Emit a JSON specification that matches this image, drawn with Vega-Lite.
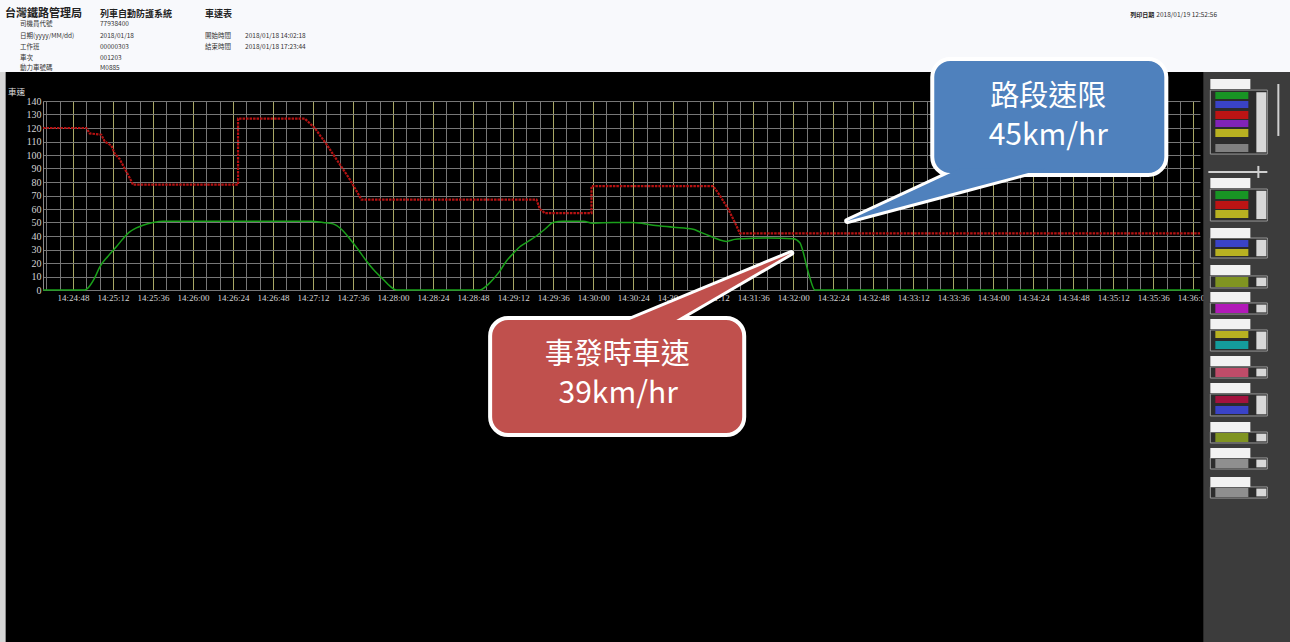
{
"$schema": "https://vega.github.io/schema/vega-lite/v6.json",
"width": 1157,
"height": 189,
"autosize": {"type": "none"},
"padding": {"left": 43, "top": 101, "right": 90, "bottom": 352},
"background": "#000000",
"config": {"view": {"stroke": null}, "font": "Noto Sans CJK TC"},
"datasets": {
  "limit": [
    {"t":30,"v":120},{"t":56,"v":120},{"t":58,"v":116},{"t":65,"v":115},{"t":67,"v":110},{"t":71,"v":107},{"t":73,"v":101},{"t":76,"v":97},{"t":79,"v":90},{"t":82,"v":83},{"t":84,"v":78},{"t":147,"v":78},{"t":147,"v":127},{"t":187,"v":127},{"t":193,"v":120},{"t":200,"v":108},{"t":207,"v":95},{"t":214,"v":82},{"t":221,"v":67},{"t":326,"v":67},{"t":328,"v":60},{"t":331,"v":57},{"t":359,"v":57},{"t":359,"v":77},{"t":432,"v":77},{"t":436,"v":70},{"t":441,"v":60},{"t":445,"v":50},{"t":448,"v":42},{"t":724,"v":42}
  ],
  "speed": [
    {"t":30,"v":0},{"t":55,"v":0},{"t":58,"v":3},{"t":61,"v":9},{"t":64,"v":17},{"t":69,"v":25},{"t":74,"v":32},{"t":78,"v":38},{"t":82,"v":43},{"t":86,"v":46},{"t":90,"v":48},{"t":96,"v":50},{"t":102,"v":51},{"t":191,"v":51},{"t":198,"v":50},{"t":204,"v":49},{"t":209,"v":45},{"t":214,"v":38},{"t":219,"v":30},{"t":224,"v":21.5},{"t":229,"v":14},{"t":234,"v":8},{"t":238,"v":3},{"t":242,"v":0},{"t":292,"v":0},{"t":296,"v":3},{"t":300,"v":8},{"t":304,"v":14},{"t":308,"v":21.5},{"t":312,"v":27},{"t":316,"v":32},{"t":321,"v":36},{"t":326,"v":40},{"t":331,"v":45},{"t":336,"v":50},{"t":342,"v":51},{"t":354,"v":51},{"t":360,"v":49.5},{"t":372,"v":50},{"t":384,"v":50},{"t":396,"v":48},{"t":408,"v":46.5},{"t":420,"v":45},{"t":424,"v":43},{"t":428,"v":41},{"t":432,"v":39},{"t":436,"v":37},{"t":440,"v":36},{"t":445,"v":37.5},{"t":450,"v":38},{"t":465,"v":38.5},{"t":480,"v":38},{"t":484,"v":35},{"t":486,"v":28},{"t":488,"v":18},{"t":490,"v":9},{"t":493,"v":0},{"t":724,"v":0}
  ],
  "stations": [
    {"t":75.6,"name":"三坑"},{"t":96.2,"name":"八堵"},{"t":168,"name":"八堵"},{"t":328.2,"name":"八堵"},{"t":420,"name":"七堵"}
  ],
  "boxes": [
    {"id":"limit","t":563.4,"t2":703.8,"v":171.1,"v2":85.2},
    {"id":"speed","t":298.2,"t2":450.6,"v":-20.7,"v2":-107.4}
  ],
  "tails": [
    {"id":"limit","t":512.4,"v":51.1,"v2":51.1},{"id":"limit","t":580.2,"v":73.3,"v2":90},{"id":"limit","t":631.2,"v":90,"v2":90},
    {"id":"speed","t":378.9,"v":-23.7,"v2":-23.7},{"id":"speed","t":407.8,"v":-23.7,"v2":-8.9},{"id":"speed","t":478.8,"v":27.4,"v2":27.4}
  ],
  "notes": [
    {"row":"name","t":633,"v":143,"text":"路段速限"},{"row":"value","t":633,"v":114.1,"text":"45km/hr"},
    {"row":"name","t":374.4,"v":-47.8,"text":"事發時車速"},{"row":"value","t":375,"v":-77.4,"text":"39km/hr"}
  ],
  "head": [
    {"kind":"h1","t":7.2,"v":204.1,"text":"台灣鐵路管理局"},
    {"kind":"h2","t":64.2,"v":204.1,"text":"列車自動防護系統"},
    {"kind":"h2","t":127.2,"v":204.1,"text":"車速表"},
    {"kind":"s","t":16.2,"v":196.7,"text":"司機員代號"},
    {"kind":"s","t":16.2,"v":188.1,"text":"日期(yyyy/MM/dd)"},
    {"kind":"s","t":16.2,"v":180.0,"text":"工作班"},
    {"kind":"s","t":16.2,"v":171.9,"text":"車次"},
    {"kind":"s","t":16.2,"v":164.4,"text":"動力車號碼"},
    {"kind":"s","t":64.2,"v":196.7,"text":"77938400"},
    {"kind":"s","t":64.2,"v":188.1,"text":"2018/01/18"},
    {"kind":"s","t":64.2,"v":180.0,"text":"00000303"},
    {"kind":"s","t":64.2,"v":171.9,"text":"001203"},
    {"kind":"s","t":64.2,"v":164.4,"text":"M0885"},
    {"kind":"s","t":127.2,"v":188.1,"text":"開始時間"},
    {"kind":"s","t":127.2,"v":180.0,"text":"結束時間"},
    {"kind":"s","t":151.2,"v":188.1,"text":"2018/01/18 14:02:18"},
    {"kind":"s","t":151.2,"v":180.0,"text":"2018/01/18 17:23:44"},
    {"kind":"sb","t":682.2,"v":203.7,"text":"列印日期"},
    {"kind":"s","t":697.8,"v":203.7,"text":"2018/01/19 12:52:56"}
  ],
  "frames": [
    {"t":730.2,"t2":764.4,"v":148.1,"v2":100.7},
    {"t":730.2,"t2":764.4,"v":74.8,"v2":51.1},
    {"t":730.2,"t2":764.4,"v":38.5,"v2":23.7},
    {"t":730.2,"t2":764.4,"v":10.4,"v2":1.5},
    {"t":730.2,"t2":764.4,"v":-9.6,"v2":-17.8},
    {"t":730.2,"t2":764.4,"v":-29.6,"v2":-45.2},
    {"t":730.2,"t2":764.4,"v":-57.0,"v2":-65.2},
    {"t":730.2,"t2":764.4,"v":-77.0,"v2":-93.3},
    {"t":730.2,"t2":764.4,"v":-105.2,"v2":-113.3},
    {"t":730.2,"t2":764.4,"v":-124.4,"v2":-132.6},
    {"t":730.2,"t2":764.4,"v":-145.9,"v2":-154.1}
  ],
  "heads": [
    {"t":730.2,"t2":754.2,"v":156.3,"v2":148.9},
    {"t":730.2,"t2":754.2,"v":83.0,"v2":75.6},
    {"t":730.2,"t2":754.2,"v":45.9,"v2":38.5},
    {"t":730.2,"t2":754.2,"v":18.5,"v2":11.1},
    {"t":730.2,"t2":754.2,"v":-1.5,"v2":-8.9},
    {"t":730.2,"t2":754.2,"v":-21.5,"v2":-28.9},
    {"t":730.2,"t2":754.2,"v":-48.9,"v2":-56.3},
    {"t":730.2,"t2":754.2,"v":-68.9,"v2":-76.3},
    {"t":730.2,"t2":754.2,"v":-97.8,"v2":-105.2},
    {"t":730.2,"t2":754.2,"v":-117.0,"v2":-124.4},
    {"t":730.2,"t2":754.2,"v":-138.5,"v2":-145.9}
  ],
  "items": [
    {"k":"綠","t":733.2,"t2":753,"v":146.7,"v2":141.5},
    {"k":"藍","t":733.2,"t2":753,"v":140.0,"v2":134.8},
    {"k":"紅","t":733.2,"t2":753,"v":132.6,"v2":126.7},
    {"k":"紫","t":733.2,"t2":753,"v":125.9,"v2":120.7},
    {"k":"黃","t":733.2,"t2":753,"v":119.3,"v2":113.3},
    {"k":"白","t":733.2,"t2":753,"v":108.1,"v2":102.2},
    {"k":"綠","t":733.2,"t2":753,"v":73.3,"v2":67.4},
    {"k":"紅","t":733.2,"t2":753,"v":65.9,"v2":60.0},
    {"k":"黃","t":733.2,"t2":753,"v":59.3,"v2":53.3},
    {"k":"藍","t":733.2,"t2":753,"v":37.0,"v2":31.9},
    {"k":"黃","t":733.2,"t2":753,"v":30.4,"v2":25.2},
    {"k":"橄欖","t":733.2,"t2":753,"v":9.6,"v2":2.2},
    {"k":"洋紅","t":733.2,"t2":753,"v":-10.4,"v2":-17.0},
    {"k":"黃","t":733.2,"t2":753,"v":-30.4,"v2":-35.6},
    {"k":"青","t":733.2,"t2":753,"v":-37.8,"v2":-43.7},
    {"k":"粉紅","t":733.2,"t2":753,"v":-57.8,"v2":-64.4},
    {"k":"深紅","t":733.2,"t2":753,"v":-78.5,"v2":-83.7},
    {"k":"藍","t":733.2,"t2":753,"v":-85.9,"v2":-91.9},
    {"k":"橄欖","t":733.2,"t2":753,"v":-105.9,"v2":-112.6},
    {"k":"灰","t":733.2,"t2":753,"v":-125.2,"v2":-131.9},
    {"k":"灰","t":733.2,"t2":753,"v":-146.7,"v2":-153.3}
  ],
  "checks": [
    {"t":757.8,"t2":763.8,"v":146.5,"v2":102.0},
    {"t":757.8,"t2":763.8,"v":73.5,"v2":52.5},
    {"t":757.8,"t2":763.8,"v":37.2,"v2":25.0},
    {"t":757.8,"t2":763.8,"v":9.2,"v2":2.8},
    {"t":757.8,"t2":763.8,"v":-10.8,"v2":-16.6},
    {"t":757.8,"t2":763.8,"v":-30.8,"v2":-44.0},
    {"t":757.8,"t2":763.8,"v":-58.2,"v2":-64.0},
    {"t":757.8,"t2":763.8,"v":-78.2,"v2":-92.1},
    {"t":757.8,"t2":763.8,"v":-106.4,"v2":-112.1},
    {"t":757.8,"t2":763.8,"v":-125.6,"v2":-131.4},
    {"t":757.8,"t2":763.8,"v":-147.1,"v2":-152.9}
  ],
  "sliders": [
    {"t":771,"t2":771,"v":152.6,"v2":114.1},
    {"t":729,"t2":764.4,"v":87.4,"v2":87.4},
    {"t":759,"t2":759,"v":91.9,"v2":83.0}
  ]
},
"encoding": {
  "x": {"field": "t", "type": "quantitative",
    "scale": {"domain": [30, 724], "nice": false, "zero": false},
    "axis": {"title": null, "grid": true, "ticks": false, "domain": false,
      "values": [32,40,48,56,64,72,80,88,96,104,112,120,128,136,144,152,160,168,176,184,192,200,208,216,224,232,240,248,256,264,272,280,288,296,304,312,320,328,336,344,352,360,368,376,384,392,400,408,416,424,432,440,448,456,464,472,480,488,496,504,512,520,528,536,544,552,560,568,576,584,592,600,608,616,624,632,640,648,656,664,672,680,688,696,704,712,720],
      "gridColor": {"condition": {"test": "datum.value % 24 === 0", "value": "#a9a866"}, "value": "#777777"},
      "gridWidth": 1,
      "labelExpr": "datum.value % 24 === 0 ? timeFormat(datetime(2018,0,18,14,24,datum.value),'%H:%M:%S') : ''",
      "labelFont": "Liberation Serif", "labelFontSize": 9, "labelColor": "#d4d4d4",
      "labelPadding": 3, "labelOverlap": false, "labelFlush": false, "labelBound": false}},
  "y": {"field": "v", "type": "quantitative",
    "scale": {"domain": [0, 140], "nice": false, "zero": false},
    "axis": {"title": null, "grid": true, "ticks": false, "domain": true, "domainColor": "#8a8a8a",
      "values": [0,10,20,30,40,50,60,70,80,90,100,110,120,130,140],
      "gridColor": "#777777", "gridWidth": 1,
      "labelFont": "Liberation Serif", "labelFontSize": 10, "labelColor": "#d4d4d4", "labelPadding": 2}}
},
"layer": [
  {"data": {"values": [{"t": -20, "t2": 800, "v": 161.5, "v2": 230}]},
   "mark": {"type": "rect", "color": "#f8f9fc", "clip": false},
   "encoding": {"x2": {"field": "t2"}, "y2": {"field": "v2"}}},
  {"data": {"values": [{"t": -20, "t2": 7.6, "v": 161.5, "v2": -280}]},
   "mark": {"type": "rect", "color": "#d6d6d6", "clip": false},
   "encoding": {"x2": {"field": "t2"}, "y2": {"field": "v2"}}},
  {"data": {"values": [{"t": 726, "t2": 800, "v": 161.5, "v2": -280}]},
   "mark": {"type": "rect", "color": "#3c3c3c", "clip": false},
   "encoding": {"x2": {"field": "t2"}, "y2": {"field": "v2"}}},
  {"data": {"name": "stations"},
   "mark": {"type": "rule", "color": "#1db6c2", "strokeWidth": 2},
   "encoding": {"y": {"datum": 0}, "y2": {"datum": 140}}},
  {"data": {"name": "stations"},
   "mark": {"type": "text", "color": "#2cc4c8", "fontSize": 9.5, "align": "left", "baseline": "middle", "dx": -2, "font": "Noto Sans CJK TC", "clip": false},
   "encoding": {"y": {"datum": 139.3}, "text": {"field": "name"}}},
  {"data": {"name": "limit"},
   "mark": {"type": "line", "color": "#b51212", "strokeWidth": 2.2, "strokeDash": [2.5, 1]},
   "encoding": {}},
  {"data": {"name": "speed"},
   "mark": {"type": "line", "color": "#1aa01a", "strokeWidth": 1.5, "interpolate": "monotone"},
   "encoding": {}},
  {"data": {"name": "tails"}, "transform": [{"filter": "datum.id === 'limit'"}],
   "mark": {"type": "area", "color": "#4f81bd", "stroke": "#ffffff", "strokeWidth": 6, "strokeJoin": "round", "clip": false},
   "encoding": {"y2": {"field": "v2"}}},
  {"data": {"name": "boxes"}, "transform": [{"filter": "datum.id === 'limit'"}],
   "mark": {"type": "rect", "fill": "#4f81bd", "stroke": "#ffffff", "strokeWidth": 4, "cornerRadius": 18, "clip": false},
   "encoding": {"x2": {"field": "t2"}, "y2": {"field": "v2"}}},
  {"data": {"name": "tails"}, "transform": [{"filter": "datum.id === 'limit'"}],
   "mark": {"type": "area", "color": "#4f81bd", "strokeWidth": 0, "clip": false},
   "encoding": {"y2": {"field": "v2"}}},
  {"data": {"name": "tails"}, "transform": [{"filter": "datum.id === 'speed'"}],
   "mark": {"type": "area", "color": "#c0504d", "stroke": "#ffffff", "strokeWidth": 6, "strokeJoin": "round", "clip": false},
   "encoding": {"y2": {"field": "v2"}}},
  {"data": {"name": "boxes"}, "transform": [{"filter": "datum.id === 'speed'"}],
   "mark": {"type": "rect", "fill": "#c0504d", "stroke": "#ffffff", "strokeWidth": 4, "cornerRadius": 18, "clip": false},
   "encoding": {"x2": {"field": "t2"}, "y2": {"field": "v2"}}},
  {"data": {"name": "tails"}, "transform": [{"filter": "datum.id === 'speed'"}],
   "mark": {"type": "area", "color": "#c0504d", "strokeWidth": 0, "clip": false},
   "encoding": {"y2": {"field": "v2"}}},
  {"data": {"name": "notes"}, "transform": [{"filter": "datum.row === 'name'"}],
   "mark": {"type": "text", "color": "#ffffff", "fontSize": 29, "align": "center", "baseline": "middle", "font": "Noto Sans CJK TC", "clip": false},
   "encoding": {"text": {"field": "text"}}},
  {"data": {"name": "notes"}, "transform": [{"filter": "datum.row === 'value'"}],
   "mark": {"type": "text", "color": "#ffffff", "fontSize": 30, "align": "center", "baseline": "middle", "font": "Noto Sans CJK TC", "clip": false},
   "encoding": {"text": {"field": "text"}}},
  {"data": {"name": "frames"},
   "mark": {"type": "rect", "fill": "#2c2c2c", "stroke": "#9a9a9a", "strokeWidth": 1, "clip": false},
   "encoding": {"x2": {"field": "t2"}, "y2": {"field": "v2"}}},
  {"data": {"name": "heads"},
   "mark": {"type": "rect", "fill": "#f2f2f2", "clip": false},
   "encoding": {"x2": {"field": "t2"}, "y2": {"field": "v2"}}},
  {"data": {"name": "items"},
   "mark": {"type": "rect", "clip": false, "opacity": 0.9},
   "encoding": {"x2": {"field": "t2"}, "y2": {"field": "v2"},
     "color": {"field": "k", "type": "nominal", "legend": null,
       "scale": {"domain": ["綠","藍","紅","紫","黃","白","橄欖","洋紅","青","粉紅","深紅","灰"],
                 "range": ["#16a024","#3c46d8","#cc1212","#8a22c8","#c8c020","#8a8a8a","#8aa020","#c018c8","#12a8a8","#d05070","#b01040","#9a9a9a"]}}}},
  {"data": {"name": "checks"},
   "mark": {"type": "rect", "fill": "#d8d8d8", "clip": false},
   "encoding": {"x2": {"field": "t2"}, "y2": {"field": "v2"}}},
  {"data": {"name": "sliders"},
   "mark": {"type": "rule", "color": "#d0d0d0", "strokeWidth": 2, "clip": false},
   "encoding": {"x2": {"field": "t2"}, "y2": {"field": "v2"}}},
  {"data": {"name": "head"}, "transform": [{"filter": "datum.kind === 'h1'"}],
   "mark": {"type": "text", "color": "#222222", "fontSize": 11, "fontWeight": "bold", "align": "left", "baseline": "middle", "font": "Noto Sans CJK TC", "clip": false},
   "encoding": {"text": {"field": "text"}}},
  {"data": {"name": "head"}, "transform": [{"filter": "datum.kind === 'h2'"}],
   "mark": {"type": "text", "color": "#222222", "fontSize": 9, "fontWeight": "bold", "align": "left", "baseline": "middle", "font": "Noto Sans CJK TC", "clip": false},
   "encoding": {"text": {"field": "text"}}},
  {"data": {"name": "head"}, "transform": [{"filter": "datum.kind === 's'"}],
   "mark": {"type": "text", "color": "#333333", "fontSize": 6.5, "align": "left", "baseline": "middle", "font": "Noto Sans CJK TC", "clip": false},
   "encoding": {"text": {"field": "text"}}},
  {"data": {"name": "head"}, "transform": [{"filter": "datum.kind === 'sb'"}],
   "mark": {"type": "text", "color": "#222222", "fontSize": 6, "fontWeight": "bold", "align": "left", "baseline": "middle", "font": "Noto Sans CJK TC", "clip": false},
   "encoding": {"text": {"field": "text"}}},
  {"data": {"values": [{"t": 9, "v": 146.7, "text": "車速"}]},
   "mark": {"type": "text", "color": "#e0e0e0", "fontSize": 8.5, "align": "left", "baseline": "middle", "font": "Noto Sans CJK TC", "clip": false},
   "encoding": {"text": {"field": "text"}}}
]
}
